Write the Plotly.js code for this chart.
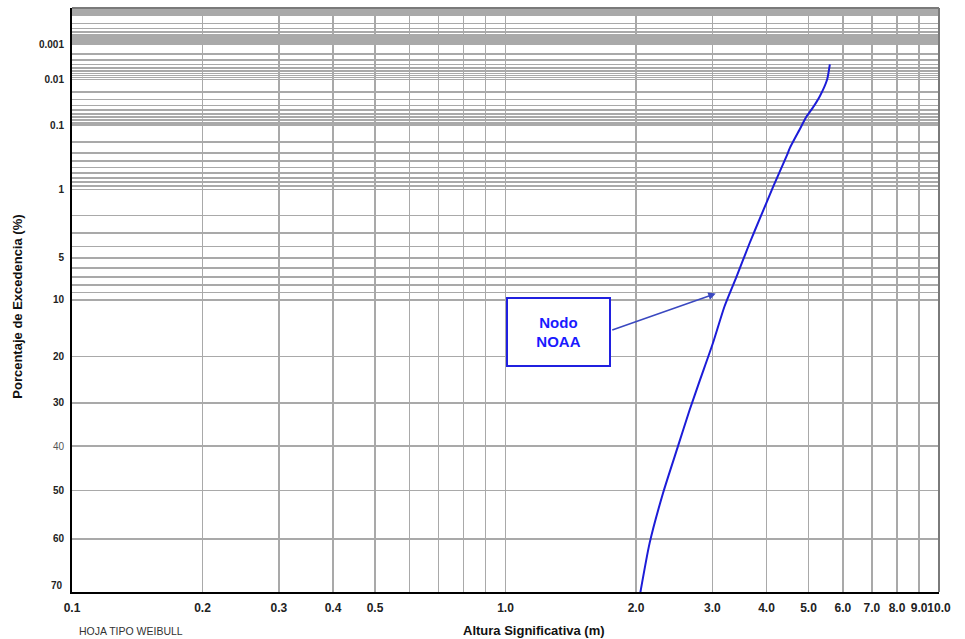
<!DOCTYPE html>
<html>
<head>
<meta charset="utf-8">
<script src="https://cdn.plot.ly/plotly-3.0.1.min.js"></script>
<style>
  html, body { margin: 0; padding: 0; background: #ffffff; }
  #chart { width: 965px; height: 639px; }
</style>
</head>
<body>
<div id="chart"></div>
<script>
// ---- Data ----
// Altura significativa (m)
const alturaHs = [2.04, 2.15, 2.31, 2.50, 2.66, 2.81, 3.01, 3.20, 3.41, 3.66, 3.86, 4.14, 4.45, 4.53, 4.77, 4.95, 5.08, 5.31, 5.52, 5.60];
// Porcentaje de excedencia (%)
const excedenciaPct = [70, 60.8, 50.5, 40.0, 31.6, 24.9, 17.3, 11.0, 7.0, 3.7, 2.16, 0.93, 0.34, 0.25, 0.12, 0.067, 0.049, 0.025, 0.010, 0.0040];

// X axis ticks
const xTickVals = [0.1, 0.2, 0.3, 0.4, 0.5, 0.6, 0.7, 0.8, 0.9, 1, 2, 3, 4, 5, 6, 7, 8, 9, 10];
const xTickText = ['0.1', '0.2', '0.3', '0.4', '0.5', '', '', '', '', '1.0', '2.0', '3.0', '4.0', '5.0', '6.0', '7.0', '8.0', '9.0', '10.0'];

// Y axis labelled ticks (%)
const yLabelPct = [0.001, 0.01, 0.1, 1, 5, 10, 20, 30, 40, 50, 60];
const yLabelText = ['0.001', '0.01', '0.1', '1', '5', '10', '20', '30', '40', '50', '60'];

// Y grid lines (%)
const yGridPct = [
  0.00006, 0.00007, 0.00008, 0.00009,
  0.0001, 0.0002, 0.0003, 0.0004, 0.0005, 0.0006, 0.0007, 0.0008, 0.0009,
  0.001, 0.002, 0.003, 0.004, 0.005, 0.006, 0.007, 0.008, 0.009,
  0.01, 0.02, 0.03, 0.04, 0.05, 0.06, 0.07, 0.08, 0.09,
  0.1, 0.2, 0.3, 0.4, 0.5, 0.6, 0.7, 0.8, 0.9,
  1, 2, 3, 4, 5, 6, 7, 8, 9,
  10, 20, 30, 40, 50, 60
];

// Visible range of the Weibull paper (%)
const yRangePct = [69.36, 0.0000531];

// ---- Weibull paper transform ----
function weib(p) { return Math.log(-Math.log(p / 100)); }

const yTickVals = yGridPct.map(weib);
const yTickText = yGridPct.map(p => {
  const i = yLabelPct.indexOf(p);
  if (i < 0) return '';
  if (yLabelText[i] === '40') return '<span style="color:#555555">40</span>';
  return '<b>' + yLabelText[i] + '</b>';
});

const trace = {
  type: 'scatter',
  mode: 'lines',
  x: alturaHs,
  y: excedenciaPct.map(weib),
  line: { color: '#1c1cd8', width: 2, shape: 'spline', smoothing: 0.6 },
  hoverinfo: 'skip',
  showlegend: false
};

const layout = {
  width: 965,
  height: 639,
  margin: { l: 72, r: 26, t: 8, b: 47 },
  paper_bgcolor: '#ffffff',
  plot_bgcolor: '#ffffff',
  font: { family: 'Liberation Sans, Arial, sans-serif', color: '#222222' },
  showlegend: false,
  xaxis: {
    type: 'log',
    range: [-1, 1],
    tickmode: 'array',
    tickvals: xTickVals,
    ticktext: xTickText,
    tickangle: 0,
    tickfont: { size: 12, weight: 'bold', color: '#222222' },
    ticks: '',
    ticklabelstandoff: 4,
    showgrid: true,
    gridcolor: '#a9a9a9',
    gridwidth: 1.5,
    showline: true,
    linecolor: '#000000',
    linewidth: 2,
    zeroline: false
  },
  yaxis: {
    range: [weib(yRangePct[0]), weib(yRangePct[1])],
    tickmode: 'array',
    tickvals: yTickVals,
    ticktext: yTickText,
    tickfont: { size: 10, color: '#222222' },
    ticks: '',
    ticklabelstandoff: 4,
    showgrid: true,
    gridcolor: '#a9a9a9',
    gridwidth: 1.5,
    showline: true,
    linecolor: '#000000',
    linewidth: 2,
    zeroline: false
  },
  shapes: [
    { type: 'line', xref: 'paper', yref: 'paper', x0: 0, x1: 1, y0: 1, y1: 1, line: { color: '#7a7a7a', width: 2 } },
    { type: 'line', xref: 'paper', yref: 'paper', x0: 1, x1: 1, y0: 0, y1: 1, line: { color: '#7a7a7a', width: 2 } }
  ],
  annotations: [
    {
      xref: 'paper', yref: 'paper', x: 0.5611, y: 0.4452,
      xanchor: 'center', yanchor: 'middle',
      text: '<b>Nodo<br>NOAA</b>', showarrow: false,
      font: { size: 15, color: '#1a1aff' },
      bgcolor: '#ffffff', bordercolor: '#2020e0', borderwidth: 2, borderpad: 1,
      width: 99, height: 64, align: 'center'
    },
    {
      xref: 'x', yref: 'y', x: Math.log10(3.055), y: weib(9.13),
      text: '', showarrow: true, ax: -105, ay: 37,
      arrowhead: 2, arrowsize: 1, arrowwidth: 1.5, arrowcolor: '#3a48c0', standoff: 0
    },
    {
      xref: 'paper', yref: 'paper', x: 0, y: 0, xanchor: 'right', yanchor: 'bottom',
      xshift: -7, yshift: -1,
      text: '<b>70</b>', showarrow: false, font: { size: 10, color: '#222222' }
    },
    {
      xref: 'paper', yref: 'paper', x: 0.5329, y: -0.0658,
      xanchor: 'center', yanchor: 'middle',
      text: '<b>Altura Significativa (m)</b>', showarrow: false,
      font: { size: 13, color: '#111111' }
    },
    {
      xref: 'paper', yref: 'paper', x: -0.0623, y: 0.4885,
      xanchor: 'center', yanchor: 'middle', textangle: -90,
      text: '<b>Porcentaje de Excedencia (%)</b>', showarrow: false,
      font: { size: 13, color: '#111111' }
    },
    {
      xref: 'paper', yref: 'paper', x: 0.0675, y: -0.0675,
      xanchor: 'center', yanchor: 'middle',
      text: 'HOJA TIPO WEIBULL', showarrow: false,
      font: { size: 10.5, color: '#333333' }
    }
  ]
};

Plotly.newPlot('chart', [trace], layout, { displayModeBar: false, staticPlot: true });
</script>
</body>
</html>
